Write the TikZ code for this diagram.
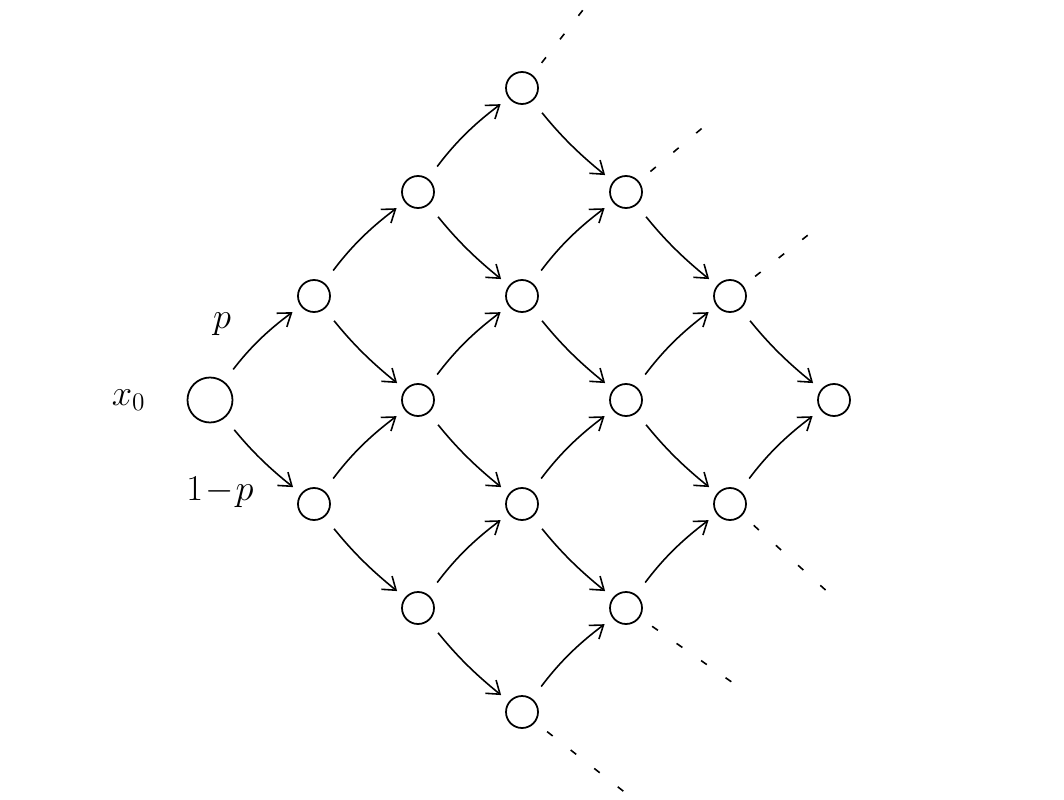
\documentclass[tikz,border=0pt]{standalone}
\usepackage{tikz}
\usetikzlibrary{arrows.meta, positioning}

\tikzset{
  state/.style={draw, circle, line width=1pt, minimum size=6.4mm, inner sep=0pt},
  move/.style={-{Straight Barb[length=2.4mm, width=3.4mm, line width=0.9pt]}, line width=0.9pt,
    shorten <=3mm, shorten >=2mm},
  etc/.style={line width=0.9pt, dash pattern=on 4pt off 13pt, shorten <=3mm},
  lab/.style={font=\huge},
}

\begin{document}
\begin{tikzpicture}[x=1cm, y=1cm]

  \useasboundingbox (0,0) rectangle (21.28,15.98);

  %% Start state
  \node[state, minimum size=9mm] (s-0-0) at (4.2,7.98) {};

  %% Lattice of states
  \foreach \i in {1,...,6}{
    \pgfmathtruncatemacro\kmin{max(0,\i-3)}
    \pgfmathtruncatemacro\kmax{min(\i,3)}
    \foreach \k in {\kmin,...,\kmax}{
      \node[state] (s-\i-\k) at ({4.2+2.08*\i},{7.98+2.08*(\i-2*\k)}) {};
    }
  }

  %% Moves up (p) and down (1-p)
  \foreach \i in {0,...,5}{
    \pgfmathtruncatemacro\kmin{max(0,\i-3)}
    \pgfmathtruncatemacro\kmax{min(\i,3)}
    \pgfmathtruncatemacro\j{\i+1}
    \foreach \k in {\kmin,...,\kmax}{
      \pgfmathtruncatemacro\kk{\k+1}
      \ifnum\k>\numexpr\i-3\relax
        \draw[move, bend left=8] (s-\i-\k) to (s-\j-\k);
      \fi
      \ifnum\k<3
        \draw[move, bend right=6] (s-\i-\k) to (s-\j-\kk);
      \fi
    }
  }

  %% Labels
  \node[lab, left=0.7cm of s-0-0] (x0) {$x_0$};
  \node[lab] (up) at (4.44,9.5) {$p$};
  \node[lab] (down) at (4.4,6.14) {$1\!-\!p$};

  %% Continuation beyond the lattice
  \foreach \n/\a/\l [count=\c] in {s-3-0/52/2.6, s-4-1/40/2.4, s-5-2/38/2.2,
                                   s-5-3/-42/2.6, s-4-3/-35/2.7, s-3-3/-38/2.6}{
    \path (\n) ++(\a:\l) coordinate (t\c);
    \draw[etc] (\n) -- (t\c);
  }

\end{tikzpicture}
\end{document}
